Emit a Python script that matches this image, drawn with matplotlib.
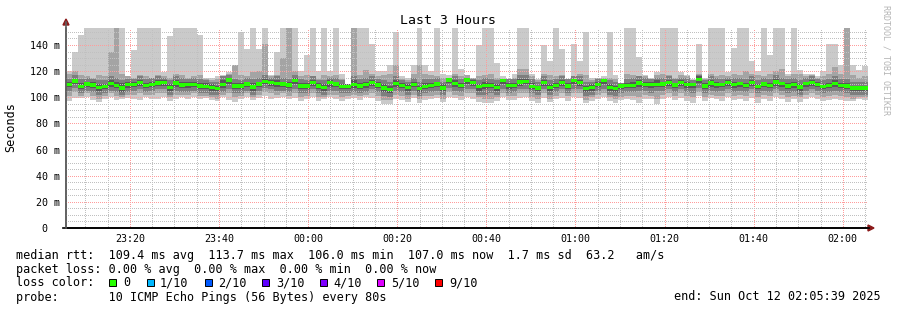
import numpy as np
import matplotlib
matplotlib.use('Agg')
import matplotlib.pyplot as plt
from matplotlib.patches import Rectangle, Polygon
from matplotlib.lines import Line2D

plt.rcParams['font.family'] = ['DejaVu Sans Mono', 'DejaVu Sans']

W, H = 897, 310

# one value per 80 s step, 23:05:39 .. 02:05:39 (ms)
median_rtt = [
    110.0, 112.5, 108.1, 110.2, 109.4, 107.4, 108.1, 110.7, 109.2, 107.1, 110.0, 110.0, 111.2, 109.2, 110.0, 110.9, 111.4, 107.4, 110.9, 109.4, 110.0, 109.7, 108.7,
    108.4, 107.6, 106.8, 110.0, 113.3, 108.7, 108.7, 110.2, 107.9, 110.2, 112.2, 111.4, 110.7, 110.2, 109.4, 113.0, 108.7, 108.7, 111.2, 108.7, 107.6, 111.2,
    110.2, 108.1, 108.4, 110.0, 108.7, 109.7, 111.2, 109.4, 107.1, 106.0, 110.7, 109.2, 107.6, 110.0, 106.8, 108.4, 109.2, 110.2, 107.1, 113.3, 110.7, 109.2, 113.3,
    111.4, 108.1, 109.2, 109.2, 107.6, 112.7, 108.9, 108.9, 111.7, 112.2, 108.4, 107.1, 111.2, 107.6, 109.2, 111.4, 108.7, 112.7, 111.4, 106.6, 107.6, 110.0, 112.7,
    107.6, 106.8, 108.7, 109.2, 109.2, 110.9, 110.0, 110.0, 110.0, 110.2, 111.4, 109.4, 111.4, 109.7, 109.7, 113.7, 108.7, 110.9, 109.7, 109.7, 111.2, 109.7,
    110.5, 109.0, 111.2, 108.3, 110.2, 109.0, 111.8, 110.5, 108.7, 109.7, 107.9, 110.4, 111.5, 110.0, 108.2, 109.0, 110.5, 109.2, 108.5, 107.2, 107.0, 107.0]

smoke_max = [
    120, 135, 148, 153, 153, 153, 153, 153, 153, 153, 116, 136, 153, 153, 153, 153, 119, 147, 153, 153, 153, 153, 148,
    115, 115, 116, 117, 119, 125, 150, 137, 153, 137, 153, 117, 135, 153, 153, 153, 120, 132, 153, 120, 153, 120,
    153, 118, 110, 153, 153, 153, 141, 120, 120, 125, 150, 116, 115, 125, 153, 125, 120, 153, 118, 115, 153, 122, 117,
    115, 140, 153, 153, 126, 114, 114, 118, 153, 153, 118, 114, 140, 128, 153, 137, 114, 141, 128, 150, 115, 115, 115,
    150, 117, 111, 153, 153, 131, 117, 115, 119, 153, 153, 153, 119, 117, 114, 141, 115, 153, 153, 153, 119, 138,
    153, 153, 128, 120, 153, 132, 153, 153, 118, 153, 121, 118, 118, 116, 120, 141, 141, 125, 153, 125, 121, 124]

smoke_p9 = [
    118, 120, 117, 116, 115, 117, 116, 135, 153, 118, 116, 115, 117, 116, 115, 117, 116, 115, 118, 117, 115, 116, 117,
    114, 113, 114, 116, 118, 125, 117, 116, 119, 120, 141, 116, 117, 130, 153, 120, 116, 117, 116, 114, 117, 116,
    117, 114, 110, 153, 117, 121, 118, 116, 117, 118, 125, 114, 113, 118, 125, 118, 117, 116, 115, 114, 118, 116, 115,
    114, 116, 117, 118, 115, 113, 114, 115, 122, 122, 116, 113, 118, 117, 116, 117, 114, 116, 118, 117, 113, 114, 114,
    115, 114, 111, 118, 117, 116, 116, 114, 117, 118, 117, 115, 117, 116, 113, 117, 114, 118, 116, 117, 116, 118,
    117, 120, 118, 117, 116, 118, 120, 122, 116, 118, 118, 116, 117, 115, 116, 118, 123, 118, 153, 117, 115, 116]

smoke_p8 = [
    114, 117, 114, 115, 114, 113, 113, 116, 115, 113, 114, 114, 116, 114, 115, 116, 115, 113, 116, 115, 114, 115, 114,
    113, 112, 112, 116, 117, 114, 113, 115, 114, 115, 117, 115, 116, 115, 114, 117, 114, 113, 116, 113, 113, 115,
    115, 113, 110, 116, 114, 115, 116, 114, 113, 112, 116, 113, 112, 115, 112, 114, 114, 115, 112, 117, 116, 114, 117,
    115, 113, 115, 114, 113, 116, 114, 114, 117, 117, 114, 112, 116, 113, 114, 116, 114, 116, 116, 112, 112, 115, 116,
    113, 112, 111, 114, 115, 116, 115, 114, 115, 115, 116, 114, 115, 115, 113, 118, 113, 116, 115, 114, 115, 115,
    115, 114, 116, 113, 115, 114, 117, 115, 114, 115, 113, 115, 116, 114, 113, 114, 116, 114, 114, 112, 112, 112]

smoke_p7 = [
    112, 114, 111, 112, 112, 110, 110, 113, 112, 111, 112, 112, 113, 111, 112, 113, 113, 110, 113, 112, 112, 112, 111,
    111, 110, 109, 113, 115, 111, 111, 112, 111, 112, 114, 113, 113, 112, 112, 115, 111, 111, 113, 111, 110, 113,
    112, 110, 110, 113, 111, 112, 113, 112, 110, 109, 113, 111, 110, 112, 109, 111, 111, 112, 110, 115, 113, 111, 115,
    113, 110, 112, 111, 110, 114, 111, 111, 114, 114, 111, 109, 113, 110, 111, 113, 111, 114, 113, 109, 110, 112, 114,
    110, 109, 110, 111, 112, 113, 112, 112, 113, 112, 113, 111, 113, 112, 111, 116, 111, 113, 112, 111, 113, 112,
    112, 111, 113, 110, 112, 111, 114, 112, 111, 112, 110, 112, 113, 112, 110, 111, 113, 111, 111, 109, 109, 109]

smoke_p4 = [
    108, 110, 106, 108, 107, 105, 106, 108, 107, 104, 107, 108, 109, 107, 108, 109, 109, 105, 108, 107, 107, 108, 106,
    106, 105, 105, 107, 110, 106, 106, 108, 105, 108, 110, 109, 108, 108, 107, 110, 106, 106, 109, 106, 105, 108,
    108, 106, 106, 107, 106, 107, 109, 107, 104, 103, 108, 107, 105, 108, 104, 106, 107, 108, 105, 111, 108, 107, 110,
    109, 105, 106, 107, 105, 110, 106, 107, 109, 110, 106, 105, 109, 105, 107, 109, 106, 110, 109, 104, 105, 108, 110,
    105, 104, 106, 107, 107, 108, 108, 107, 108, 108, 109, 107, 109, 107, 107, 111, 106, 108, 107, 108, 109, 107,
    108, 107, 109, 106, 108, 107, 109, 108, 106, 107, 105, 108, 109, 108, 106, 107, 108, 107, 106, 105, 105, 105]

smoke_p3 = [
    105, 107, 103, 105, 104, 102, 103, 105, 104, 102, 104, 105, 106, 104, 105, 106, 106, 102, 105, 104, 104, 105, 103,
    103, 102, 102, 104, 106, 103, 103, 105, 102, 105, 107, 106, 105, 105, 104, 106, 103, 103, 106, 103, 102, 105,
    105, 103, 103, 104, 103, 104, 106, 104, 101, 100, 105, 104, 102, 105, 101, 103, 104, 105, 102, 107, 105, 104, 106,
    106, 102, 102, 103, 102, 106, 103, 104, 106, 106, 103, 102, 106, 102, 104, 106, 103, 106, 106, 101, 102, 105, 106,
    102, 101, 103, 104, 104, 105, 105, 103, 105, 105, 106, 104, 106, 104, 103, 107, 103, 105, 104, 105, 106, 104,
    105, 104, 106, 103, 105, 104, 106, 105, 103, 104, 102, 105, 106, 105, 103, 104, 105, 104, 103, 102, 102, 102]

smoke_p2 = [
    101, 104, 101, 103, 101, 99, 101, 103, 101, 100, 102, 102, 103, 102, 102, 103, 103, 100, 102, 102, 102, 103, 101,
    101, 100, 99, 102, 103, 100, 101, 103, 100, 102, 104, 103, 102, 103, 101, 103, 100, 101, 103, 100, 100, 102,
    102, 100, 101, 102, 101, 102, 103, 101, 98, 98, 102, 101, 99, 102, 99, 101, 101, 102, 99, 104, 102, 101, 103,
    103, 100, 99, 99, 100, 103, 101, 101, 103, 103, 100, 99, 103, 99, 101, 103, 101, 103, 103, 98, 100, 102, 103,
    100, 99, 100, 101, 101, 100, 102, 101, 99, 102, 103, 101, 103, 101, 100, 104, 100, 102, 101, 101, 103, 101,
    102, 101, 103, 100, 102, 101, 103, 102, 100, 101, 100, 102, 103, 102, 100, 101, 102, 101, 100, 99, 100, 100]

smoke_min = [
    97.4, 99.2, 99.2, 100.0, 98.2, 96.1, 99.0, 100.5, 97.9, 98.5, 99.5, 98.8, 97.6, 100.2, 99.0, 98.5, 100.5, 97.0, 98.8, 100.0, 99.0, 100.3, 98.4,
    99.5, 98.0, 97.2, 100.0, 98.0, 96.5, 99.0, 100.2, 97.8, 99.5, 101.0, 98.8, 99.5, 100.0, 98.5, 99.8, 97.5, 99.0, 100.5, 96.8, 98.5, 100.0,
    99.0, 97.5, 98.8, 99.5, 98.0, 100.0, 99.2, 97.0, 94.9, 94.9, 99.0, 97.8, 96.5, 99.5, 96.0, 98.0, 98.8, 99.5, 96.5, 100.5, 99.2, 98.0, 100.2,
    99.0, 96.5, 95.6, 95.6, 97.0, 100.2, 98.0, 97.8, 99.5, 100.0, 97.0, 95.5, 99.8, 96.5, 98.5, 99.5, 97.5, 100.5, 99.2, 95.5, 96.8, 98.5, 100.0,
    97.0, 96.0, 97.8, 98.5, 98.0, 95.5, 98.5, 99.0, 95.0, 98.8, 100.0, 98.0, 99.8, 97.5, 95.5, 101.0, 97.0, 99.5, 98.5, 97.0, 100.0, 98.0,
    99.0, 97.5, 99.8, 96.0, 98.5, 97.5, 100.0, 99.0, 96.5, 98.5, 96.5, 99.0, 100.0, 98.5, 97.0, 97.8, 99.0, 98.0, 97.5, 97.0, 98.5, 98.0]

tick_minutes = [20, 40, 60, 80, 100, 120, 140, 160, 180]
tick_labels = ['23:20', '23:40', '00:00', '00:20', '00:40', '01:00', '01:20', '01:40', '02:00']
y_ticks = [0, 20, 40, 60, 80, 100, 120, 140]
y_labels = ['0  ', '20 m', '40 m', '60 m', '80 m', '100 m', '120 m', '140 m']

loss_labels = ['0', '1/10', '2/10', '3/10', '4/10', '5/10', '9/10']
loss_colors = ['#26ff00', '#00b8ff', '#0059ff', '#5e00ff', '#7e00ff', '#dd00ff', '#ff0000']

T0 = 5 + 39 / 60.0      # 23:05:39, minutes after 23:00
STEP = 80 / 60.0
YMAX = 153


def fx(x):
    return x / W


def fy(y):
    return 1 - y / H


fig = plt.figure(figsize=(W / 100, H / 100), dpi=100)
ax = fig.add_axes([fx(66), fy(228), (868 - 66) / W, 200 / H])

n = len(median_rtt)
edges = T0 + STEP * np.arange(n + 1)
pings = np.array([smoke_min, smoke_p2, smoke_p3, smoke_p4,
                  smoke_p7, smoke_p8, smoke_p9, smoke_max], dtype=float)
pings = np.minimum(np.sort(pings, axis=0), YMAX)
shades = ['#cacaca', '#a4a4a4', '#7e7e7e', '#585858']
for i, c in enumerate(shades):
    ax.stairs(pings[-1 - i], edges, baseline=pings[i], fill=True, color=c, lw=0)

# median on top of the grid
med = np.array(median_rtt)
ax.stairs(med + 1.3, edges, baseline=med - 1.3, fill=True, color='#26ff00', lw=0, zorder=4)

ax.set_xlim(T0, T0 + 180)
ax.set_ylim(0, YMAX)
ax.set_xticks(tick_minutes)
ax.set_xticklabels(tick_labels)
ax.set_xticks(np.arange(10, 186, 5), minor=True)
ax.set_yticks(y_ticks)
ax.set_yticklabels(y_labels)
ax.set_yticks(np.arange(5, 153, 5), minor=True)
ax.tick_params(which='both', length=0, labelsize=7.2, colors='black')
ax.tick_params(axis='x', pad=4.5)
ax.tick_params(axis='y', pad=4.3)

ax.set_axisbelow(False)
ax.grid(which='minor', color='#c0c0c0', ls=(0, (1, 2)), lw=0.72, antialiased=False)
ax.grid(which='major', color='#ff9c9c', ls=(0, (1, 2)), lw=0.72, antialiased=False)

for s in ['top', 'right']:
    ax.spines[s].set_visible(False)
ax.spines['left'].set_color('#606060')
ax.spines['left'].set_linewidth(1.2)
ax.spines['bottom'].set_color('black')
ax.spines['bottom'].set_linewidth(1.2)

# axis extensions and arrows
arrow_c = '#8b1a1a'
fig.add_artist(Line2D([fx(63), fx(869)], [fy(228), fy(228)], color='black', lw=1.2))
fig.add_artist(Line2D([fx(66), fx(66)], [fy(228), fy(22)], color='#606060', lw=1.2))
fig.add_artist(Polygon([[fx(63), fy(25)], [fx(69), fy(25)], [fx(66), fy(19)]],
                       closed=True, color=arrow_c, transform=fig.transFigure))
fig.add_artist(Polygon([[fx(868), fy(225)], [fx(868), fy(231)], [fx(874), fy(228)]],
                       closed=True, color=arrow_c, transform=fig.transFigure))

fig.text(fx(448), fy(24), 'Last 3 Hours', ha='center', va='baseline', fontsize=9.5)
fig.text(fx(11), fy(127), 'Seconds', rotation=90, ha='center', va='center', fontsize=8.5)
fig.text(fx(886), fy(5), 'RRDTOOL / TOBI OETIKER', rotation=270, ha='center', va='top',
         fontsize=6, color='#b4b4b4')

fs = 8.5
fig.text(fx(16), fy(258.5),
         'median rtt:  109.4 ms avg  113.7 ms max  106.0 ms min  107.0 ms now  1.7 ms sd  63.2   am/s',
         va='baseline', fontsize=fs)
fig.text(fx(16), fy(272.5),
         'packet loss: 0.00 % avg  0.00 % max  0.00 % min  0.00 % now',
         va='baseline', fontsize=fs)
fig.text(fx(16), fy(286.5), 'loss color:', va='baseline', fontsize=fs)
box_x = [109, 147, 205, 262, 320, 377, 435]
lab_x = [123, 160, 218, 276, 333, 391, 449]
for bx, lx, lab, col in zip(box_x, lab_x, loss_labels, loss_colors):
    fig.add_artist(Rectangle((fx(bx), fy(286)), 7 / W, 7 / H, facecolor=col,
                             edgecolor='black', lw=0.7, transform=fig.transFigure))
    fig.text(fx(lx), fy(286.5), lab, va='baseline', fontsize=fs)
fig.text(fx(16), fy(300.5), 'probe:       10 ICMP Echo Pings (56 Bytes) every 80s',
         va='baseline', fontsize=fs)
fig.text(fx(881), fy(300.5), 'end: Sun Oct 12 02:05:39 2025', ha='right', va='baseline',
         fontsize=fs)

fig.savefig('out.png', dpi=100, facecolor='white')
